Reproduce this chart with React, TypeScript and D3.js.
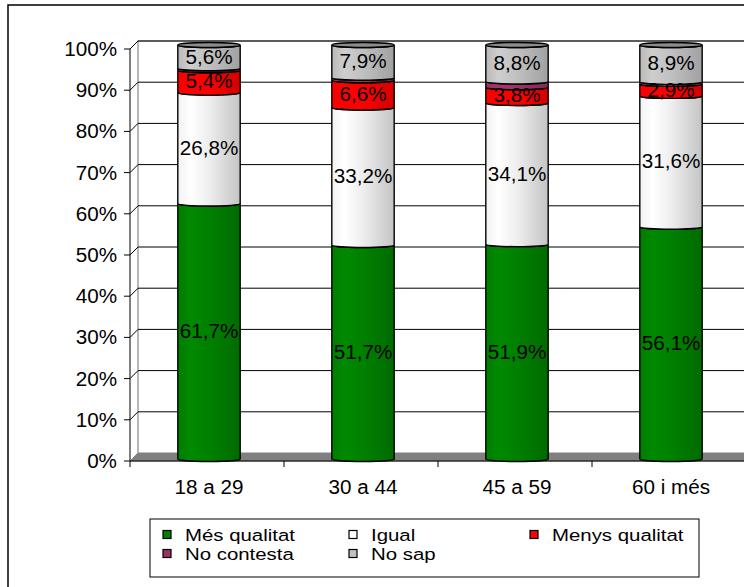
import React from 'react';
import * as d3 from 'd3';

const categories = ['18 a 29', '30 a 44', '45 a 59', '60 i més'];
const mesQualitat = [61.7, 51.7, 51.9, 56.1];
const igual = [26.8, 33.2, 34.1, 31.6];
const menysQualitat = [5.4, 6.6, 3.8, 2.9];
const noContesta = [0.5, 0.6, 1.4, 0.5];
const noSap = [5.6, 7.9, 8.8, 8.9];
const yTicks = [0, 10, 20, 30, 40, 50, 60, 70, 80, 90, 100];

const seriesNames = ['Més qualitat', 'Igual', 'Menys qualitat', 'No contesta', 'No sap'];
const seriesValues = [mesQualitat, igual, menysQualitat, noContesta, noSap];
const seriesColors = ['#008000', '#ffffff', '#ff0000', '#993366', '#c0c0c0'];
const showLabel = [true, true, true, false, true];

const FONT = 'Liberation Sans, Arial, sans-serif';

function T({ x, y, anchor = 'middle', size = 19.5, sx = 1.06, children }: any) {
  return (
    <text
      transform={`translate(${x},${y}) scale(${sx},1)`}
      textAnchor={anchor}
      fontSize={size}
      fontFamily={FONT}
      fill="#000"
    >
      {children}
    </text>
  );
}

export default function App() {
  const W = 744;
  const H = 587;
  const DX = 8;
  const DY = -8;
  const x = d3.scaleBand<string>().domain(categories).range([130, 746]).paddingInner(0).paddingOuter(0);
  const y = d3.scaleLinear().domain([0, 100]).range([461, 49]);
  const yb = d3.scaleLinear().domain([0, 100]).range([459, 45]);
  const barW = x.bandwidth() * 0.405;
  const rx = barW / 2;
  const ry = 2.5;
  const color = d3.scaleOrdinal<string, string>().domain(seriesNames).range(seriesColors);

  const grads = seriesNames.map((n, i) => {
    const base = d3.rgb(color(n));
    const light = base.brighter(0.2);
    const dark = base.darker(0.5);
    const isWhite = i === 1;
    return (
      <linearGradient key={n} id={`g${i}`} x1="0" x2="1" y1="0" y2="0">
        <stop offset="0" stopColor={isWhite ? '#f2f2f2' : base.darker(0.1).toString()} />
        <stop offset="0.2" stopColor={isWhite ? '#ffffff' : light.toString()} />
        <stop offset="0.5" stopColor={isWhite ? '#eeeeee' : base.toString()} />
        <stop offset="1" stopColor={isWhite ? '#c4c4c4' : dark.toString()} />
      </linearGradient>
    );
  });

  const bars = categories.map((cat, ci) => {
    const cx = (x(cat) as number) + x.bandwidth() / 2 + 2;
    const x0 = cx - rx;
    const x1 = cx + rx;
    let cum = 0;
    const segs: any[] = [];
    const labels: any[] = [];
    seriesValues.forEach((vals, si) => {
      const v = vals[ci];
      const yBot = yb(cum);
      const yTop = yb(cum + v);
      cum += v;
      const d = `M${x0},${yTop} A${rx},${ry} 0 0 0 ${x1},${yTop} L${x1},${yBot} A${rx},${ry} 0 0 1 ${x0},${yBot} Z`;
      segs.push(<path key={`s${si}`} d={d} fill={`url(#g${si})`} stroke="#000" strokeWidth={1.4} />);
      if (showLabel[si]) {
        const my = (yTop + yBot) / 2 + 7;
        labels.push(
          <T key={`l${si}`} x={cx} y={my}>
            {String(v).replace('.', ',') + '%'}
          </T>
        );
      }
    });
    const topY = yb(cum);
    return (
      <g key={cat}>
        {segs}
        <ellipse cx={cx} cy={topY} rx={rx} ry={ry} fill="#8c8c8c" stroke="#000" strokeWidth={1.4} />
        {labels}
      </g>
    );
  });

  return (
    <svg width={W} height={H} style={{ position: 'absolute', left: 0, top: 0, background: '#fff' }}>
      <defs>{grads}</defs>
      <rect x={8} y={5} width={800} height={700} fill="#fff" stroke="#000" strokeWidth={1.5} />
      {/* floor */}
      <path
        d={`M130,${y(0)} L${130 + DX},${y(0) + DY} L${746 + DX},${y(0) + DY} L746,${y(0)} Z`}
        fill="#808080"
        stroke="#808080"
      />
      {/* back wall edges */}
      <path
        d={`M${130 + DX},${y(0) + DY} L${130 + DX},${y(100) + DY} L${760},${y(100) + DY}`}
        fill="none"
        stroke="#a0a0a0"
        strokeWidth={1.5}
      />
      {/* gridlines */}
      {yTicks.slice(1).map((t) => (
        <path
          key={t}
          d={`M130,${y(t)} L${130 + DX},${y(t) + DY} L760,${y(t) + DY}`}
          fill="none"
          stroke="#000"
          strokeWidth={1}
        />
      ))}
      {/* y axis */}
      <line x1={130} x2={130} y1={y(0)} y2={y(100)} stroke="#000" strokeWidth={1} />
      {yTicks.map((t) => (
        <g key={t}>
          <line x1={124} x2={130} y1={y(t)} y2={y(t)} stroke="#000" />
          <T x={117} y={y(t) + 7} anchor="end">
            {t + '%'}
          </T>
        </g>
      ))}
      {/* x axis */}
      <line x1={130} x2={746} y1={y(0)} y2={y(0)} stroke="#000" strokeWidth={1} />
      {categories.map((c) => (
        <line key={c} x1={x(c) as number} x2={x(c) as number} y1={y(0)} y2={y(0) + 6} stroke="#000" />
      ))}
      {categories.map((c) => (
        <T key={c} x={(x(c) as number) + x.bandwidth() / 2 + 2} y={494}>
          {c}
        </T>
      ))}
      {bars}
      {/* legend */}
      <rect x={150} y={519} width={549} height={58} fill="#fff" stroke="#000" strokeWidth={1} />
      {seriesNames.map((n, i) => {
        const col = i < 3 ? i : i - 3;
        const row = i < 3 ? 0 : 1;
        const sx = [163, 349, 530][col];
        const cyy = [534.5, 553.5][row];
        return (
          <g key={n}>
            <rect x={sx} y={cyy - 4} width={8} height={8} fill={color(n)} stroke="#000" strokeWidth={1.2} />
            <T x={sx + 22} y={cyy + 6} anchor="start" size={17} sx={1.2}>
              {n}
            </T>
          </g>
        );
      })}
    </svg>
  );
}
